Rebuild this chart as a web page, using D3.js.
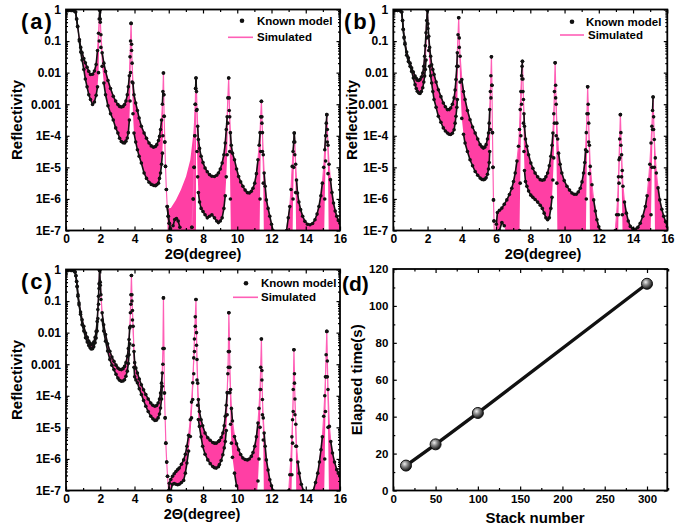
<!DOCTYPE html>
<html>
<head>
<meta charset="utf-8">
<script src="https://cdn.jsdelivr.net/npm/d3@7"></script>
<style>
  body { margin: 0; background: #fff; }
  svg text { font-family: "Liberation Sans", Arial, sans-serif; font-weight: bold; fill: #000; }
</style>
</head>
<body>
<svg id="fig" width="684" height="527"></svg>
<script>
// ---- data: 2-theta (deg) and log10(reflectivity) of the
// upper / lower envelope of the fringes, one line per inter-peak segment ----
// values of -8 mean "below the 1E-7 axis"

const aTheta = [
  0.15, 0.3, 0.45, 0.56, 0.62, 0.68, 0.78, 0.86,
  0.94, 1.04, 1.13, 1.23, 1.33, 1.43, 1.55, 1.66, 1.76, 1.84, 1.90, 1.94, 1.97,
  2.0, 2.04, 2.11, 2.21, 2.31, 2.45, 2.6, 2.76, 2.9, 3.03, 3.13, 3.23, 3.33, 3.42, 3.5, 3.58, 3.64, 3.7, 3.74, 3.77, 3.8,
  3.83, 3.86, 3.91, 3.97, 4.07, 4.17, 4.27, 4.4, 4.56, 4.7, 4.85, 4.98, 5.11, 5.22, 5.3, 5.4, 5.46, 5.52, 5.58, 5.63, 5.66, 5.69,
  5.71, 5.73, 5.77, 5.81, 5.86, 5.91, 5.97, 6.03, 6.1, 6.18, 6.25, 6.35, 6.45, 6.55, 6.65, 6.75, 6.85, 7.28, 7.35, 7.43, 7.48, 7.52, 7.55, 7.57,
  7.59, 7.62, 7.65, 7.69, 7.73, 7.8, 7.89, 8.0, 8.12, 8.25, 8.38, 8.52, 8.67, 8.8, 8.9, 9.01, 9.12, 9.22, 9.3, 9.36, 9.41, 9.45, 9.5,
  9.53, 9.56, 9.6, 9.65, 9.72, 9.84, 9.96, 10.08, 10.2, 10.33, 10.46, 10.59, 10.7, 10.82, 10.92, 11.02, 11.12, 11.21, 11.28, 11.33, 11.37, 11.41,
  11.44, 11.47, 11.52, 11.57, 11.63, 11.7, 11.8, 11.9, 12.0, 12.09, 12.2, 12.8, 12.88, 12.98, 13.07, 13.14, 13.21, 13.26, 13.3, 13.33,
  13.36, 13.41, 13.46, 13.52, 13.6, 13.7, 13.82, 13.95, 14.1, 14.25, 14.4, 14.54, 14.66, 14.77, 14.88, 14.97, 15.05, 15.11, 15.16, 15.2, 15.23,
  15.26, 15.3, 15.36, 15.44, 15.53, 15.62, 15.72, 15.81, 15.9, 16.0
]
const aHi = [
  -0.03, -0.03, -0.04, -0.08, -0.3, -0.53, -0.95, -1.2,
  -1.37, -1.55, -1.69, -1.83, -1.96, -2.06, -2.05, -1.95, -1.74, -1.3, -0.75, -0.3, -0.02,
  -0.3, -0.8, -1.37, -1.7, -1.96, -2.25, -2.5, -2.75, -2.9, -3.01, -3.07, -3.09, -3.07, -3.01, -2.9, -2.7, -2.45, -2.1, -1.5, -1.0, -0.44,
  -1.1, -1.7, -2.33, -2.7, -2.96, -3.2, -3.44, -3.7, -3.91, -4.08, -4.23, -4.32, -4.36, -4.34, -4.28, -4.15, -4.02, -3.8, -3.5, -3.0, -2.6, -2.01,
  -2.7, -3.38, -4.2, -4.97, -5.7, -6.24, -6.55, -6.77, -6.95, -7.3, -6.85, -6.65, -6.62, -6.7, -6.9, -7.3, -7.5, -7.5, -6.9, -6.0, -5.0, -4.0, -3.0, -2.5,
  -2.17, -2.6, -3.17, -3.7, -4.12, -4.4, -4.65, -4.85, -5.02, -5.14, -5.23, -5.28, -5.29, -5.25, -5.18, -5.05, -4.86, -4.6, -4.23, -3.8, -3.4, -2.8, -2.17,
  -2.8, -3.4, -3.9, -4.3, -4.55, -4.76, -5.05, -5.29, -5.46, -5.6, -5.72, -5.8, -5.81, -5.76, -5.66, -5.5, -5.2, -4.76, -4.3, -3.9, -3.4, -2.91,
  -3.4, -3.9, -4.6, -5.18, -5.6, -6.03, -6.3, -6.55, -6.8, -7.0, -7.3, -7.3, -7.0, -6.6, -6.24, -5.7, -4.97, -4.5, -4.2, -3.91,
  -4.2, -4.9, -5.4, -5.81, -6.1, -6.34, -6.55, -6.71, -6.8, -6.82, -6.78, -6.66, -6.48, -6.24, -5.9, -5.5, -5.0, -4.44, -4.0, -3.6, -3.33,
  -3.8, -4.3, -4.9, -5.39, -5.8, -6.13, -6.38, -6.55, -6.68, -6.77
]
const aLo = [
  -0.03, -0.03, -0.04, -0.08, -0.3, -0.55, -1.0, -1.35,
  -1.6, -1.9, -2.2, -2.45, -2.7, -2.85, -3.01, -2.93, -2.72, -2.45, -2.0, -1.0, -0.02,
  -0.4, -1.2, -1.8, -2.33, -2.7, -3.05, -3.3, -3.5, -3.75, -3.91, -4.08, -4.18, -4.22, -4.23, -4.17, -4.07, -3.9, -3.5, -2.9, -2.0, -0.44,
  -1.3, -2.3, -3.3, -3.91, -4.2, -4.44, -4.65, -4.86, -5.18, -5.35, -5.47, -5.54, -5.57, -5.58, -5.55, -5.5, -5.35, -5.18, -4.9, -4.55, -4.0, -2.01,
  -2.7, -3.38, -4.2, -4.97, -5.7, -6.24, -6.55, -6.77, -6.95, -7.3, -8, -8, -8, -8, -8, -8, -8, -8, -6.9, -6.0, -5.0, -4.0, -3.0, -2.5,
  -2.17, -3.2, -4.5, -5.3, -5.8, -6.1, -6.3, -6.4, -6.5, -6.6, -6.55, -6.5, -6.6, -6.7, -6.75, -6.7, -6.6, -6.3, -5.9, -5.3, -4.6, -3.6, -2.17,
  -3.2, -4.5, -6, -8, -8, -8, -8, -8, -8, -8, -8, -8, -8, -8, -8, -8, -8, -8, -8, -6, -4.5, -2.91,
  -3.6, -4.5, -5.5, -8, -8, -8, -8, -8, -8, -8, -8, -8, -8, -8, -8, -8, -8, -6.0, -5.0, -3.91,
  -4.6, -5.8, -8, -8, -8, -8, -8, -8, -8, -8, -8, -8, -8, -8, -8, -8, -8, -6.0, -4.8, -4.0, -3.33,
  -4.2, -5.2, -8, -8, -8, -8, -8, -8, -8, -8
]
// panel (a): simulated curve that sits above the known model after the 5.7 deg peak
const aWedgeTheta = [5.93, 6.12, 6.42, 6.71, 7.01, 7.26, 7.44, 7.53, 7.59]
const aWedgeHi = [-6.3, -6.29, -6.03, -5.71, -5.29, -4.76, -3.91, -3.0, -2.17]

const bTheta = [
  0.1, 0.25, 0.4, 0.49, 0.54, 0.58, 0.63, 0.68, 0.78,
  0.88, 0.98, 1.07, 1.17, 1.27, 1.34, 1.40, 1.48, 1.56, 1.64, 1.72, 1.78, 1.83, 1.87, 1.91, 1.95, 1.99,
  2.02, 2.07, 2.12, 2.18, 2.24, 2.31, 2.38, 2.5, 2.63, 2.78, 2.92, 3.04, 3.16, 3.26, 3.35, 3.45, 3.55, 3.61, 3.66, 3.71, 3.74, 3.78, 3.82,
  3.85, 3.9, 4.0, 4.1, 4.19, 4.33, 4.48, 4.63, 4.78, 4.93, 5.07, 5.17, 5.26, 5.34, 5.42, 5.5, 5.56, 5.6, 5.63, 5.67, 5.7, 5.73,
  5.76, 5.79, 5.82, 5.85, 5.88, 5.91, 5.95, 6.02, 6.08, 6.2, 6.34, 6.48, 6.63, 6.78, 6.92, 7.02, 7.12, 7.22, 7.31, 7.37, 7.41, 7.45, 7.49, 7.52, 7.54,
  7.57, 7.6, 7.63, 7.66, 7.72, 7.8, 7.9, 8.03, 8.15, 8.28, 8.43, 8.58, 8.7, 8.81, 8.91, 9.01, 9.11, 9.2, 9.27, 9.32, 9.37, 9.41, 9.45,
  9.48, 9.51, 9.55, 9.6, 9.65, 9.74, 9.84, 9.98, 10.14, 10.29, 10.43, 10.56, 10.68, 10.8, 10.92, 11.02, 11.11, 11.18, 11.23, 11.27, 11.31, 11.35,
  11.38, 11.41, 11.45, 11.5, 11.6, 11.7, 11.8, 11.89, 12.0, 12.09, 12.2, 12.85, 12.96, 13.04, 13.1, 13.15, 13.18, 13.22, 13.26,
  13.29, 13.33, 13.37, 13.41, 13.5, 13.61, 13.72, 13.84, 13.98, 14.13, 14.28, 14.42, 14.57, 14.72, 14.82, 14.91, 14.98, 15.05, 15.1, 15.14, 15.17,
  15.2, 15.24, 15.3, 15.36, 15.46, 15.56, 15.68, 15.79, 15.9, 16.0
]
const bHi = [
  -0.03, -0.03, -0.04, -0.08, -0.35, -0.63, -0.87, -1.06, -1.35,
  -1.53, -1.7, -1.85, -1.98, -2.11, -2.18, -2.24, -2.25, -2.22, -2.14, -2.01, -1.8, -1.48, -1.15, -0.74, -0.35, -0.02,
  -0.45, -0.85, -1.2, -1.48, -1.75, -1.9, -2.06, -2.3, -2.54, -2.76, -2.96, -3.08, -3.17, -3.17, -3.12, -3.0, -2.8, -2.55, -2.22, -1.8, -1.37, -0.8, -0.26,
  -0.9, -1.48, -2.22, -2.6, -2.85, -3.2, -3.49, -3.72, -3.91, -4.1, -4.28, -4.35, -4.39, -4.36, -4.28, -4.1, -3.91, -3.6, -3.17, -2.6, -2.1, -1.5,
  -2.4, -3.9, -5.0, -6.03, -6.7, -7.2, -7.3, -6.8, -6.43, -6.36, -6.29, -6.17, -6.03, -5.86, -5.66, -5.45, -5.18, -4.8, -4.33, -3.8, -3.17, -2.6, -2.1, -1.8, -1.64,
  -2.2, -2.85, -3.3, -3.7, -4.1, -4.33, -4.6, -4.86, -5.03, -5.18, -5.3, -5.39, -5.41, -5.39, -5.3, -5.18, -4.95, -4.65, -4.3, -3.91, -3.3, -2.6, -1.69,
  -2.4, -3.0, -3.6, -4.1, -4.55, -4.9, -5.18, -5.42, -5.6, -5.72, -5.81, -5.85, -5.85, -5.78, -5.66, -5.46, -5.18, -4.85, -4.44, -3.9, -3.3, -2.45,
  -3.0, -3.6, -4.3, -4.97, -5.55, -6.03, -6.38, -6.66, -6.88, -7.0, -7.3, -7.3, -7.0, -6.5, -6.03, -5.3, -4.76, -4.1, -3.33,
  -3.9, -4.6, -5.1, -5.6, -6.1, -6.45, -6.7, -6.87, -6.94, -6.96, -6.9, -6.77, -6.55, -6.24, -5.9, -5.39, -4.9, -4.23, -3.7, -3.2, -2.77,
  -3.4, -4.12, -4.7, -5.18, -5.65, -6.03, -6.33, -6.55, -6.72, -6.87
]
const bLo = [
  -0.03, -0.03, -0.04, -0.08, -0.35, -0.63, -0.9, -1.1, -1.45,
  -1.65, -1.8, -1.96, -2.17, -2.38, -2.5, -2.59, -2.64, -2.66, -2.6, -2.48, -2.3, -2.11, -1.9, -1.6, -0.9, -0.02,
  -0.6, -1.3, -1.8, -2.1, -2.33, -2.6, -2.85, -3.1, -3.38, -3.57, -3.75, -3.85, -3.91, -3.95, -3.96, -3.92, -3.81, -3.6, -3.38, -3.1, -2.85, -1.8, -0.26,
  -1.2, -2.3, -3.45, -3.95, -4.23, -4.5, -4.76, -4.95, -5.13, -5.25, -5.34, -5.38, -5.39, -5.38, -5.33, -5.22, -5.05, -4.85, -4.5, -3.8, -2.8, -1.5,
  -2.4, -3.9, -5.0, -6.03, -6.7, -7.2, -8, -8, -8, -7.0, -6.75, -6.85, -7.2, -8, -8, -8, -8, -8, -8, -7.0, -5.5, -4.0, -3.0, -2.2, -1.64,
  -2.6, -3.6, -4.5, -5.1, -5.45, -5.6, -5.75, -5.88, -5.95, -6.02, -6.1, -6.2, -6.3, -6.45, -6.6, -6.66, -6.6, -6.3, -5.95, -5.4, -4.7, -3.6, -1.69,
  -2.8, -4.0, -5.5, -8, -8, -8, -8, -8, -8, -8, -8, -8, -8, -8, -8, -8, -8, -8, -8, -6.0, -4.5, -2.45,
  -3.3, -4.2, -5.2, -8, -8, -8, -8, -8, -8, -8, -8, -8, -8, -8, -8, -6.5, -5.5, -4.7, -3.33,
  -4.3, -5.3, -6.5, -8, -8, -8, -8, -8, -8, -8, -8, -8, -8, -8, -8, -8, -8, -6.5, -5.0, -3.8, -2.77,
  -3.8, -5.0, -8, -8, -8, -8, -8, -8, -8, -8
]

const cTheta = [
  0.12, 0.3, 0.45, 0.53, 0.58, 0.62, 0.65, 0.7, 0.76, 0.85,
  0.94, 1.04, 1.14, 1.24, 1.33, 1.41, 1.47, 1.55, 1.62, 1.7, 1.76, 1.82, 1.86, 1.9, 1.93, 1.96,
  2.0, 2.04, 2.11, 2.2, 2.31, 2.43, 2.56, 2.68, 2.8, 2.92, 3.03, 3.13, 3.23, 3.33, 3.42, 3.5, 3.58, 3.64, 3.68, 3.72, 3.76, 3.79, 3.82,
  3.85, 3.88, 3.92, 3.97, 4.01, 4.08, 4.17, 4.28, 4.4, 4.53, 4.66, 4.8, 4.95, 5.07, 5.19, 5.29, 5.38, 5.46, 5.52, 5.58, 5.62, 5.66, 5.69,
  5.72, 5.75, 5.79, 5.83, 5.88, 5.93, 5.99, 6.03, 6.12, 6.22, 6.32, 6.42, 6.52, 6.61, 6.74, 6.87, 6.97, 7.06, 7.16, 7.26, 7.33, 7.4, 7.46, 7.5, 7.55, 7.59,
  7.62, 7.65, 7.69, 7.73, 7.79, 7.89, 7.98, 8.12, 8.28, 8.42, 8.57, 8.67, 8.77, 8.9, 8.96, 9.06, 9.16, 9.24, 9.3, 9.36, 9.41, 9.45, 9.48, 9.51,
  9.54, 9.57, 9.61, 9.66, 9.72, 9.84, 9.96, 10.08, 10.2, 10.33, 10.46, 10.59, 10.7, 10.82, 10.92, 11.02, 11.12, 11.21, 11.27, 11.33, 11.37, 11.41,
  11.44, 11.47, 11.52, 11.57, 11.63, 11.7, 11.8, 11.9, 12.0, 12.09, 12.2, 12.9, 13.01, 13.07, 13.13, 13.19, 13.23, 13.27, 13.31,
  13.34, 13.37, 13.42, 13.46, 13.54, 13.62, 13.74, 13.86, 13.95, 14.35, 14.44, 14.57, 14.7, 14.8, 14.89, 14.97, 15.05, 15.11, 15.15, 15.19, 15.23,
  15.26, 15.3, 15.38, 15.46, 15.56, 15.68, 15.81, 15.9, 16.0
]
const cHi = [
  -0.03, -0.03, -0.04, -0.08, -0.2, -0.38, -0.53, -0.8, -1.06, -1.35,
  -1.59, -1.8, -2.01, -2.15, -2.27, -2.34, -2.38, -2.36, -2.3, -2.15, -1.96, -1.65, -1.27, -0.85, -0.45, -0.03,
  -0.4, -0.8, -1.37, -1.75, -2.06, -2.35, -2.59, -2.77, -2.91, -3.03, -3.12, -3.16, -3.17, -3.14, -3.07, -2.95, -2.75, -2.5, -2.22, -1.85, -1.37, -0.8, -0.19,
  -0.8, -1.3, -1.8, -2.6, -2.95, -3.12, -3.28, -3.47, -3.65, -3.81, -3.96, -4.1, -4.23, -4.3, -4.33, -4.31, -4.23, -4.1, -3.91, -3.6, -3.28, -2.5, -0.9,
  -2.5, -3.91, -4.7, -5.5, -6.1, -6.55, -7.0, -6.77, -6.65, -6.55, -6.47, -6.4, -6.34, -6.29, -6.17, -6.03, -5.85, -5.6, -5.25, -4.76, -4.2, -3.59, -2.8, -2.2, -1.5, -0.95,
  -2.0, -2.85, -3.6, -4.12, -4.5, -4.76, -4.95, -5.18, -5.33, -5.41, -5.48, -5.5, -5.5, -5.45, -5.42, -5.32, -5.18, -4.95, -4.65, -4.3, -3.9, -3.3, -2.6, -1.37,
  -2.2, -3.1, -3.8, -4.4, -4.8, -5.29, -5.52, -5.71, -5.86, -5.97, -6.02, -6.03, -6.0, -5.92, -5.8, -5.6, -5.3, -4.86, -4.4, -3.8, -3.1, -2.2,
  -3.2, -4.12, -4.7, -5.18, -5.6, -6.03, -6.35, -6.66, -6.85, -7.0, -7.3, -7.3, -7.0, -6.5, -6.03, -5.3, -4.76, -3.8, -2.54,
  -3.3, -4.1, -4.9, -5.6, -6.1, -6.45, -6.8, -7.0, -7.3, -7.3, -7.0, -6.75, -6.45, -6.1, -5.71, -5.3, -4.65, -4.0, -3.4, -2.7, -1.96,
  -2.9, -3.8, -4.97, -5.45, -5.81, -6.1, -6.34, -6.45, -6.55
]
const cLo = [
  -0.03, -0.03, -0.04, -0.08, -0.2, -0.38, -0.55, -0.85, -1.12, -1.42,
  -1.75, -1.95, -2.16, -2.3, -2.41, -2.48, -2.52, -2.51, -2.45, -2.32, -2.17, -1.95, -1.55, -1.1, -0.6, -0.03,
  -0.5, -0.95, -1.6, -1.95, -2.27, -2.58, -2.85, -3.03, -3.17, -3.32, -3.44, -3.51, -3.54, -3.53, -3.49, -3.38, -3.22, -2.98, -2.7, -2.35, -1.8, -1.1, -0.19,
  -1.0, -1.6, -2.4, -3.1, -3.4, -3.5, -3.59, -3.78, -3.96, -4.15, -4.33, -4.5, -4.65, -4.73, -4.78, -4.77, -4.7, -4.58, -4.39, -4.1, -3.7, -3.0, -0.9,
  -2.5, -3.91, -4.7, -5.5, -6.1, -6.55, -7.2, -7.2, -7.0, -6.8, -6.78, -6.8, -6.82, -6.8, -6.75, -6.68, -6.45, -6.13, -5.75, -5.29, -4.7, -4.12, -3.3, -2.6, -1.8, -0.95,
  -2.4, -3.5, -4.3, -4.75, -4.97, -5.3, -5.6, -5.85, -6.03, -6.15, -6.24, -6.28, -6.29, -6.25, -6.18, -6.05, -5.87, -5.65, -5.45, -5.1, -4.6, -3.9, -3.1, -1.37,
  -2.6, -3.9, -4.9, -5.5, -5.95, -6.45, -6.85, -7.3, -7.3, -7.3, -7.3, -7.3, -7.3, -7.3, -7.3, -7.3, -7.3, -6.7, -6.0, -5.0, -3.8, -2.2,
  -3.5, -4.6, -5.4, -8, -8, -8, -8, -8, -8, -8, -8, -8, -8, -8, -8, -6.5, -5.5, -4.5, -2.54,
  -3.6, -4.6, -5.6, -8, -8, -8, -8, -8, -8, -8, -8, -8, -8, -8, -8, -8, -8, -6.0, -4.5, -3.4, -1.96,
  -3.4, -5.0, -8, -8, -8, -8, -8, -8, -8
]

// panel (d)
const stackNumbers = [15, 50, 100, 300]
const elapsedTimes = [13.5, 25, 42, 112]

// tick values
const thetaMajor = [0, 2, 4, 6, 8, 10, 12, 14, 16]
const thetaMinor = [1, 3, 5, 7, 9, 11, 13, 15]
const decades = [1e-7, 1e-6, 1e-5, 1e-4, 1e-3, 1e-2, 1e-1, 1]
const stackMajor = [0, 50, 100, 150, 200, 250, 300]
const stackMinor = [25, 75, 125, 175, 225, 275, 325]
const timeMajor = [0, 20, 40, 60, 80, 100, 120]
const timeMinor = [10, 30, 50, 70, 90, 110]

const PINK = '#ff3fa4'
const PINK_LINE = '#ff5fb6'
const INK = '#111'

const svg = d3.select('#fig')
const defs = svg.append('defs')
const ball = defs.append('radialGradient').attr('id', 'ball')
    .attr('cx', '38%').attr('cy', '35%').attr('r', '65%')
ball.append('stop').attr('offset', '0%').attr('stop-color', '#f0f0f0')
ball.append('stop').attr('offset', '40%').attr('stop-color', '#8a8a8a')
ball.append('stop').attr('offset', '100%').attr('stop-color', '#111')

const minorLog = []
decades.slice(0, -1).forEach(d => {
    for (let k = 2; k <= 9; k++) minorLog.push(d * k)
})

const fmtLog = v => v >= 1e-3 ? String(v) : '1E-' + Math.round(-Math.log10(v))

function styleAxis(g, size) {
    g.select('.domain').remove()
    g.attr('font-family', null).attr('font-size', null)
    g.selectAll('line').attr('stroke', '#000').attr('stroke-width', 1.2)
    g.selectAll('text').style('font-size', size + 'px')
}

function drawAxes(x, y, box, xMajor, xMinor, yMajor, yMinor, xFmt, yFmt, fs) {
    const [x0, x1, y0, y1] = box
    const g = svg.append('g')
    g.append('g').attr('transform', `translate(0,${y1})`)
        .call(d3.axisBottom(x).tickValues(xMajor).tickSize(-4).tickPadding(4).tickFormat(xFmt))
        .call(s => styleAxis(s, fs))
    g.append('g').attr('transform', `translate(0,${y1})`)
        .call(d3.axisBottom(x).tickValues(xMinor).tickSize(-2.5).tickFormat(''))
        .call(s => styleAxis(s, fs))
    g.append('g').attr('transform', `translate(0,${y0})`)
        .call(d3.axisTop(x).tickValues(xMajor).tickSize(-4).tickFormat(''))
        .call(s => styleAxis(s, fs))
    g.append('g').attr('transform', `translate(0,${y0})`)
        .call(d3.axisTop(x).tickValues(xMinor).tickSize(-2.5).tickFormat(''))
        .call(s => styleAxis(s, fs))
    g.append('g').attr('transform', `translate(${x0},0)`)
        .call(d3.axisLeft(y).tickValues(yMajor).tickSize(-3.5).tickPadding(5).tickFormat(yFmt))
        .call(s => styleAxis(s, fs))
    g.append('g').attr('transform', `translate(${x0},0)`)
        .call(d3.axisLeft(y).tickValues(yMinor).tickSize(-2).tickFormat(''))
        .call(s => styleAxis(s, fs))
    g.append('g').attr('transform', `translate(${x1},0)`)
        .call(d3.axisRight(y).tickValues(yMajor).tickSize(-3.5).tickFormat(''))
        .call(s => styleAxis(s, fs))
    g.append('g').attr('transform', `translate(${x1},0)`)
        .call(d3.axisRight(y).tickValues(yMinor).tickSize(-2).tickFormat(''))
        .call(s => styleAxis(s, fs))
    g.append('rect').attr('x', x0).attr('y', y0)
        .attr('width', x1 - x0).attr('height', y1 - y0)
        .attr('fill', 'none').attr('stroke', '#000').attr('stroke-width', 1.8)
}

function logPanel(p) {
    if (p.theta.length !== p.hi.length || p.theta.length !== p.lo.length) {
        throw new Error(`panel ${p.key}: ${p.theta.length} ${p.hi.length} ${p.lo.length}`)
    }
    const [x0, x1, y0, y1] = p.box
    const x = d3.scaleLinear().domain([0, 16]).range([x0, x1])
    const y = d3.scaleLog().domain([1e-7, 1]).range([y1, y0])
    const R = v => 10 ** v

    svg.append('clipPath').attr('id', 'clip-' + p.key)
        .append('rect').attr('x', x0).attr('y', y0)
        .attr('width', x1 - x0).attr('height', y1 - y0)
    const g = svg.append('g').attr('clip-path', `url(#clip-${p.key})`)

    const rows = p.theta.map((t, i) => ({t, hi: p.hi[i], lo: p.lo[i]}))

    // simulated: pink band between fringe envelopes
    g.append('path').datum(rows)
        .attr('fill', PINK)
        .attr('d', d3.area().x(d => x(d.t)).y0(d => y(R(d.lo))).y1(d => y(R(d.hi))))

    if (p.wedge) {
        const w = p.wedge.theta.map((t, i) => ({t, v: p.wedge.hi[i]}))
        g.append('path').datum(w)
            .attr('fill', PINK)
            .attr('d', d3.area().x(d => x(d.t)).y0(y(R(-8))).y1(d => y(R(d.v))))
    }

    g.append('path').datum(rows)
        .attr('fill', 'none').attr('stroke', PINK_LINE).attr('stroke-width', 1.2)
        .attr('d', d3.line().x(d => x(d.t)).y(d => y(R(d.hi))))

    // known model: dense dots on the envelopes
    ;['hi', 'lo'].forEach(k => {
        const segs = d3.pairs(rows).filter(([a, b]) =>
            a[k] > -7.2 && b[k] > -7.2 && Math.abs(y(R(a[k])) - y(R(b[k]))) < 14)
        g.append('g').selectAll('line').data(segs).join('line')
            .attr('x1', d => x(d[0].t)).attr('y1', d => y(R(d[0][k])))
            .attr('x2', d => x(d[1].t)).attr('y2', d => y(R(d[1][k])))
            .attr('stroke', INK).attr('stroke-width', 1.6)
    })
    const dots = rows.flatMap(d => [{t: d.t, v: d.hi}, {t: d.t, v: d.lo}]).filter(d => d.v > -7.2)
    g.append('g').selectAll('circle').data(dots).join('circle')
        .attr('cx', d => x(d.t)).attr('cy', d => y(R(d.v))).attr('r', 1.8)
        .attr('fill', INK)

    drawAxes(x, y, p.box, thetaMajor, thetaMinor, decades, minorLog, d3.format('d'), fmtLog, 12)

    // legend
    const L = p.legend
    svg.append('circle').attr('cx', L.dotX).attr('cy', L.y1).attr('r', 2.3).attr('fill', INK)
    svg.append('text').attr('x', L.textX).attr('y', L.y1 + 4).style('font-size', '11.5px').text('Known model')
    svg.append('line').attr('x1', L.lineX0).attr('x2', L.lineX1).attr('y1', L.y2).attr('y2', L.y2)
        .attr('stroke', PINK_LINE).attr('stroke-width', 1.6)
    svg.append('text').attr('x', L.textX2).attr('y', L.y2 + 4).style('font-size', '11.5px').text('Simulated')

    svg.append('text').attr('x', p.titleX).attr('y', y1 + 28.5).attr('text-anchor', 'middle')
        .style('font-size', '14.5px').text('2Θ(degree)')
    svg.append('text').attr('transform', `translate(${p.yTitleX},${(y0 + y1) / 2}) rotate(-90)`)
        .attr('text-anchor', 'middle').attr('dy', '0.35em').style('font-size', '15px').text('Reflectivity')
    svg.append('text').attr('x', p.labelX).attr('y', y0 + 19.5).style('font-size', '22px')
        .style('letter-spacing', '2px').text(p.label)
}

logPanel({key: 'a', theta: aTheta, hi: aHi, lo: aLo, box: [66, 340, 9.5, 230.5],
    wedge: {theta: aWedgeTheta, hi: aWedgeHi},
    legend: {dotX: 242, textX: 257, textX2: 257, y1: 20.7, y2: 37.3, lineX0: 228, lineX1: 253},
    titleX: 203, yTitleX: 17, labelX: 21, label: '(a)'})
logPanel({key: 'b', theta: bTheta, hi: bHi, lo: bLo, box: [393.3, 667.3, 9.5, 230.5],
    legend: {dotX: 572, textX: 586, textX2: 588, y1: 21.7, y2: 35, lineX0: 560, lineX1: 584},
    titleX: 543, yTitleX: 351.7, labelX: 344, label: '(b)'})
logPanel({key: 'c', theta: cTheta, hi: cHi, lo: cLo, box: [66, 340, 269.5, 490.5],
    legend: {dotX: 246, textX: 261, textX2: 261, y1: 283.3, y2: 297.3, lineX0: 233, lineX1: 258},
    titleX: 202, yTitleX: 17, labelX: 21, label: '(c)'})

// ---- panel (d): elapsed time vs stack number ----
;(function () {
    const box = [393.3, 667.3, 269, 490.5]
    const [x0, x1, y0, y1] = box
    const x = d3.scaleLinear().domain([0, 324]).range([x0, x1])
    const y = d3.scaleLinear().domain([0, 120]).range([y1, y0])
    const pts = stackNumbers.map((s, i) => ({s, t: elapsedTimes[i]}))

    svg.append('path').datum(pts)
        .attr('fill', 'none').attr('stroke', INK).attr('stroke-width', 3.4)
        .attr('d', d3.line().x(d => x(d.s)).y(d => y(d.t)))
    svg.append('g').selectAll('circle').data(pts).join('circle')
        .attr('cx', d => x(d.s)).attr('cy', d => y(d.t)).attr('r', 5.5)
        .attr('fill', 'url(#ball)').attr('stroke', INK).attr('stroke-width', 1)

    drawAxes(x, y, box, stackMajor, stackMinor, timeMajor, timeMinor, d3.format('d'), d3.format('d'), 11.5)

    svg.append('text').attr('x', 535).attr('y', y1 + 32).attr('text-anchor', 'middle')
        .style('font-size', '15px').text('Stack number')
    svg.append('text').attr('transform', `translate(356.7,${(y0 + y1) / 2}) rotate(-90)`)
        .attr('text-anchor', 'middle').attr('dy', '0.35em').style('font-size', '15px').text('Elapsed time(s)')
    svg.append('text').attr('x', 342).attr('y', y0 + 22).style('font-size', '21px')
        .text('(d)')
})()
</script>
</body>
</html>
